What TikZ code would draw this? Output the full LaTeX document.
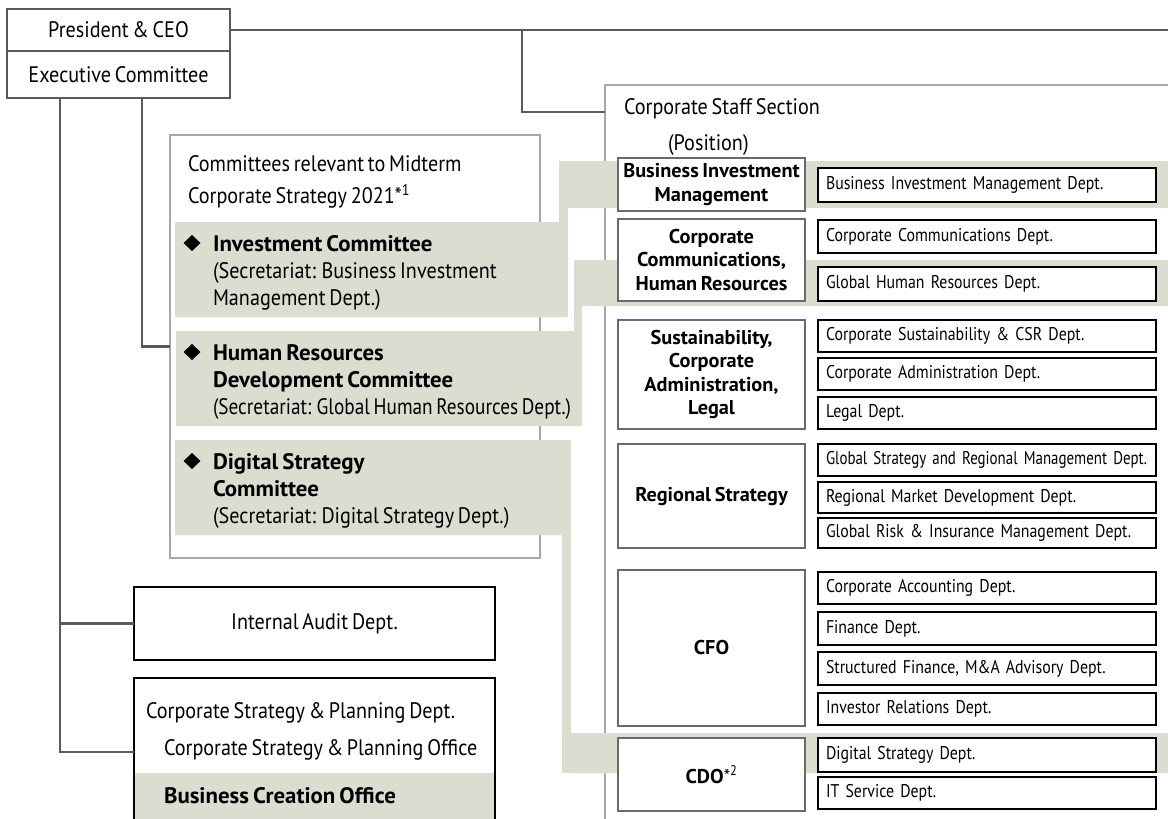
\documentclass[tikz,border=0pt]{standalone}
\usepackage{fontspec}
\setmainfont{PT Sans}[FakeStretch=0.9, WordSpace=0.7, BoldFeatures={FakeStretch=1.02}]
\newfontfamily\deptfont{PT Sans}[FakeStretch=0.86, WordSpace=0.65]
\newfontfamily\deptnarrow{PT Sans}[FakeStretch=0.81, WordSpace=0.6]
\newfontfamily\mainnarrow{PT Sans}[FakeStretch=0.86, WordSpace=0.7]
\definecolor{beige}{RGB}{221,220,208}
\definecolor{lineg}{RGB}{90,90,90}
\definecolor{boxg}{RGB}{168,168,168}
\definecolor{posg}{RGB}{105,105,105}
\begin{document}
\begin{tikzpicture}[x=1bp,y=-1bp,
  every node/.style={inner sep=0pt, outer sep=0pt},
  fmain/.style={font=\fontsize{22.5}{27}\selectfont},
  fbold/.style={font=\fontsize{22.5}{27}\selectfont\bfseries},
  fpos/.style={font=\fontsize{20}{23.5}\selectfont\bfseries},
  fdept/.style={font=\deptfont\fontsize{18.5}{22}\selectfont},
  conn/.style={draw=lineg, line width=2.4bp},
  topbox/.style={draw=lineg, line width=2.4bp, fill=white, anchor=north west, minimum width=223bp, fmain},
  grayframe/.style={draw=boxg, line width=2.2bp, anchor=north west},
  posbox/.style={draw=posg, line width=2.2bp, fill=white, anchor=north west, minimum width=187bp, align=center, fpos},
  deptbox/.style={draw=black, line width=2.4bp, fill=white, anchor=north west, text width=322bp, inner xsep=8bp, align=left, fdept},
  blackbox/.style={draw=black, line width=2.4bp, fill=white, anchor=north west, minimum width=361bp},
  band/.style={fill=beige},
  lefttext/.style={anchor=base west},
]
\useasboundingbox (0,0) rectangle (1168,819);
\clip (0,0) rectangle (1168,819);

% frames
\node[grayframe, minimum width=370bp, minimum height=423bp] (comm) at (170,135) {};
\node[grayframe, minimum width=620bp, minimum height=780bp] (staff) at (605,85) {};

% top boxes
\node[topbox, minimum height=42bp] (pres) at (7,9) {President \& CEO};
\node[topbox, minimum height=47bp] (exec) at (7,51) {Executive Committee};

% left boxes
\node[blackbox, minimum height=73bp, fmain] (audit) at (134,587) {Internal Audit Dept.};
\node[blackbox, minimum height=148bp] (cstrat) at (134,678) {};
\fill[beige] (135.2,773) rectangle (493.8,830);
\draw[black, line width=2.4bp] (cstrat.south west) rectangle (cstrat.north east);

% connectors
\coordinate (rightedge) at (1190,0);
\coordinate (branch) at (522,112);
\coordinate (tapA) at (60,0);
\coordinate (tapB) at (142,0);
\draw[conn] (pres.east) -- (pres.east -| rightedge);
\draw[conn] (pres.east -| branch) |- (staff.west |- branch);
\draw[conn] (exec.south -| tapA) |- (audit.west);
\draw[conn] (exec.south -| tapA) |- (cstrat.west);
\draw[conn] (exec.south -| tapB) |- (comm.west);

% beige bands
\fill[band] (175,222) -- (559,222) -- (559,161) -- (1170,161) -- (1170,208) -- (568,208) -- (568,317) -- (175,317) -- cycle;
\fill[band] (176,331) -- (574,331) -- (574,260) -- (1170,260) -- (1170,306) -- (582,306) -- (582,426) -- (176,426) -- cycle;
\fill[band] (175,440) -- (571,440) -- (571,733) -- (1170,733) -- (1170,773) -- (562,773) -- (562,535) -- (175,535) -- cycle;

% position boxes
\node[posbox, minimum height=53bp] (p1) at (618,158) {Business Investment\\Management};
\node[posbox, minimum height=82bp] (p2) at (618,219) {Corporate\\Communications,\\Human Resources};
\node[posbox, minimum height=109bp] (p3) at (618,320) {Sustainability,\\Corporate\\Administration,\\Legal};
\node[posbox, minimum height=104bp] (p4) at (618,444) {Regional Strategy};
\node[posbox, minimum height=156bp] (p5) at (618,570) {CFO};
\node[posbox, minimum height=73bp] (p6) at (618,738) {CDO{\mdseries*}\textsuperscript{\mdseries 2}};

% department boxes
\node[deptbox, minimum height=34bp] (d1) at (818,168) {Business Investment Management Dept.};
\node[deptbox, minimum height=33bp] (d2) at (818,220) {Corporate Communications Dept.};
\node[deptbox, minimum height=34bp] (d3) at (818,267) {Global Human Resources Dept.};
\node[deptbox, minimum height=32bp] (d4) at (818,320) {Corporate Sustainability \& CSR Dept.};
\node[deptbox, minimum height=32bp] (d5) at (818,358) {Corporate Administration Dept.};
\node[deptbox, minimum height=32bp] (d6) at (818,397) {Legal Dept.};
\node[deptbox, minimum height=32bp] (d7) at (818,444) {\deptnarrow\mbox{Global Strategy and Regional Management Dept.}};
\node[deptbox, minimum height=31bp] (d8) at (818,482) {Regional Market Development Dept.};
\node[deptbox, minimum height=30bp] (d9) at (818,518) {Global Risk \& Insurance Management Dept.};
\node[deptbox, minimum height=32bp] (d10) at (818,572) {Corporate Accounting Dept.};
\node[deptbox, minimum height=33bp] (d11) at (818,612) {Finance Dept.};
\node[deptbox, minimum height=33bp] (d12) at (818,652) {Structured Finance, M\&A Advisory Dept.};
\node[deptbox, minimum height=32bp] (d13) at (818,693) {Investor Relations Dept.};
\node[deptbox, minimum height=34bp] (d14) at (818,738) {Digital Strategy Dept.};
\node[deptbox, minimum height=32bp] (d15) at (818,777) {IT Service Dept.};

% texts
\node[lefttext, fmain] (tstaff) at (624,115) {Corporate Staff Section};
\node[lefttext, fmain] (tpos) at (668,150) {(Position)};
\node[lefttext, fmain] (tc1) at (188,171) {Committees relevant to Midterm};
\node[lefttext, fmain] (tc2) at (188,203) {Corporate Strategy 2021*\textsuperscript{1}};

\fill (192,235) -- (200.5,243) -- (192,251) -- (183.5,243) -- cycle;
\node[lefttext, fbold] (ic1) at (213,251) {Investment Committee};
\node[lefttext, fmain] (ic2) at (213,278) {(Secretariat: Business Investment};
\node[lefttext, fmain] (ic3) at (213,305) {Management Dept.)};

\fill (192,344) -- (200.5,352) -- (192,360) -- (183.5,352) -- cycle;
\node[lefttext, fbold] (hr1) at (213,360) {Human Resources};
\node[lefttext, fbold] (hr2) at (213,387) {Development Committee};
\node[lefttext, fmain] (hr3) at (213,414) {\mainnarrow (Secretariat: Global Human Resources Dept.)};

\fill (192,453) -- (200.5,461) -- (192,469) -- (183.5,461) -- cycle;
\node[lefttext, fbold] (ds1) at (213,469) {Digital Strategy};
\node[lefttext, fbold] (ds2) at (213,496) {Committee};
\node[lefttext, fmain] (ds3) at (213,523) {(Secretariat: Digital Strategy Dept.)};

\node[lefttext, fmain] (cs1) at (146,718) {Corporate Strategy \& Planning Dept.};
\node[lefttext, fmain] (cs2) at (164,755) {Corporate Strategy \& Planning Office};
\node[lefttext, fbold] (cs3) at (164,803) {Business Creation Office};
\end{tikzpicture}
\end{document}
